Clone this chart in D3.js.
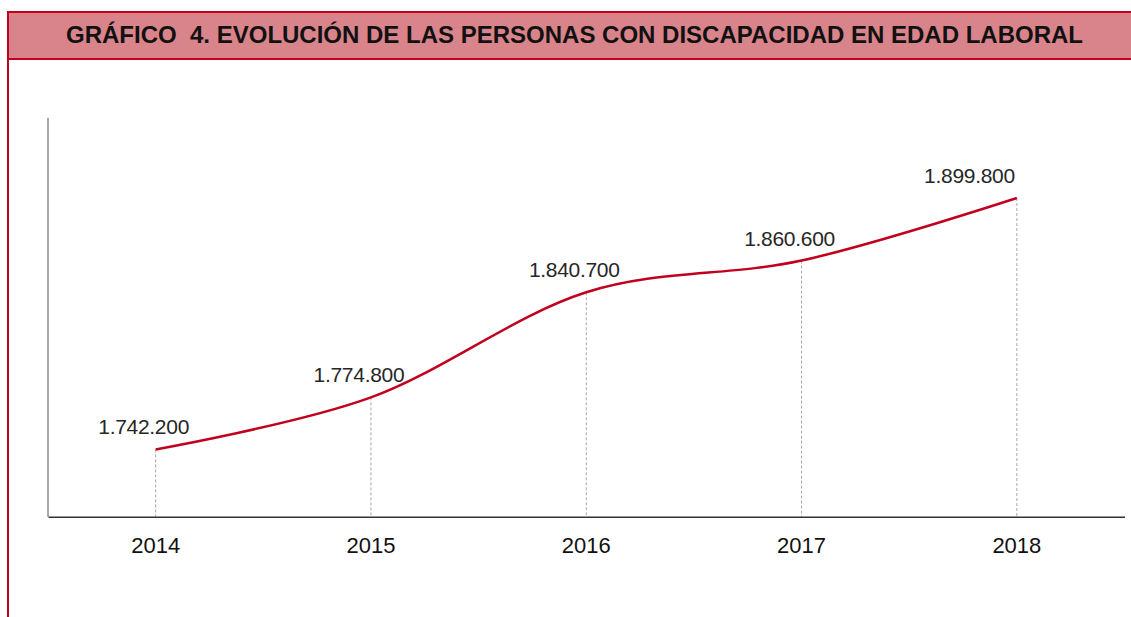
<!DOCTYPE html>
<html><head><meta charset="utf-8">
<script src="https://cdn.jsdelivr.net/npm/d3@7/dist/d3.min.js"></script>
<style>html,body{margin:0;padding:0;background:#fff;}svg{display:block;}</style>
</head><body>
<svg id="chart" width="1131" height="617"></svg>
<script>
const titleText = "GRÁFICO  4. EVOLUCIÓN DE LAS PERSONAS CON DISCAPACIDAD EN EDAD LABORAL";
const years = ["2014", "2015", "2016", "2017", "2018"];
const persons = [1742200, 1774800, 1840700, 1860600, 1899800];
const valueLabels = ["1.742.200", "1.774.800", "1.840.700", "1.860.600", "1.899.800"];
const yDomain = [1700000, 1950000];

const svg = d3.select("#chart");
const W = 1131, H = 617;
const red = "#C0001E";

// header
svg.append("rect").attr("x", 8).attr("y", 12).attr("width", W - 8).attr("height", 47)
  .attr("fill", "#D9838A");
svg.append("line").attr("x1", 8).attr("x2", W).attr("y1", 12).attr("y2", 12)
  .attr("stroke", red).attr("stroke-width", 2);
svg.append("line").attr("x1", 8).attr("x2", W).attr("y1", 59).attr("y2", 59)
  .attr("stroke", red).attr("stroke-width", 2);
svg.append("line").attr("x1", 8).attr("x2", 8).attr("y1", 11).attr("y2", H)
  .attr("stroke", red).attr("stroke-width", 2);

const title = svg.append("text").attr("x", 574.5).attr("y", 43)
  .attr("text-anchor", "middle")
  .style("white-space", "pre")
  .attr("font-family", "Liberation Sans, Arial, sans-serif")
  .attr("font-weight", "bold").attr("font-size", 21).attr("fill", "#111")
  .text(titleText);
const tl = title.node().getComputedTextLength();
title.attr("font-size", 21 * 1017 / tl);

// scales
const x = d3.scaleBand().domain(years).range([48, 1124.5]);
const y = d3.scaleLinear().domain(yDomain).range([516.7, 118]);
const cx = d => x(d) + x.bandwidth() / 2;

// y axis line
svg.append("line").attr("x1", 48).attr("x2", 48).attr("y1", y(yDomain[1])).attr("y2", y(yDomain[0]))
  .attr("stroke", "#8c8c8c").attr("stroke-width", 1.5);

// drop lines
svg.append("g").selectAll("line").data(years).join("line")
  .attr("x1", d => cx(d)).attr("x2", d => cx(d))
  .attr("y1", (d, i) => y(persons[i])).attr("y2", y(yDomain[0]))
  .attr("stroke", "#a6a6a6").attr("stroke-width", 1).attr("stroke-dasharray", "3,2");

// x axis
const xAxis = svg.append("g").attr("transform", `translate(0,${y(yDomain[0])})`)
  .call(d3.axisBottom(x).tickSize(0).tickPadding(0));
xAxis.select(".domain").attr("stroke", "#333").attr("stroke-width", 1.5);
xAxis.selectAll("text").attr("font-family", "Liberation Sans, Arial, sans-serif")
  .attr("font-size", 22).attr("fill", "#111").attr("dy", 0).attr("y", 36.5);

// line
const line = d3.line().x((d, i) => cx(years[i])).y(d => y(d)).curve(d3.curveCardinal.tension(0));
svg.append("path").datum(persons).attr("d", line)
  .attr("fill", "none").attr("stroke", red).attr("stroke-width", 2.5);

// labels
svg.append("g").selectAll("text").data(valueLabels).join("text")
  .attr("x", (d, i) => i === valueLabels.length - 1 ? cx(years[i]) - 2 : cx(years[i]) - 12)
  .attr("y", (d, i) => y(persons[i]) - 15)
  .attr("text-anchor", (d, i) => i === valueLabels.length - 1 ? "end" : "middle")
  .attr("font-family", "Liberation Sans, Arial, sans-serif")
  .attr("font-size", 21).attr("letter-spacing", -0.3).attr("fill", "#262626")
  .text(d => d);
</script>
</body></html>
